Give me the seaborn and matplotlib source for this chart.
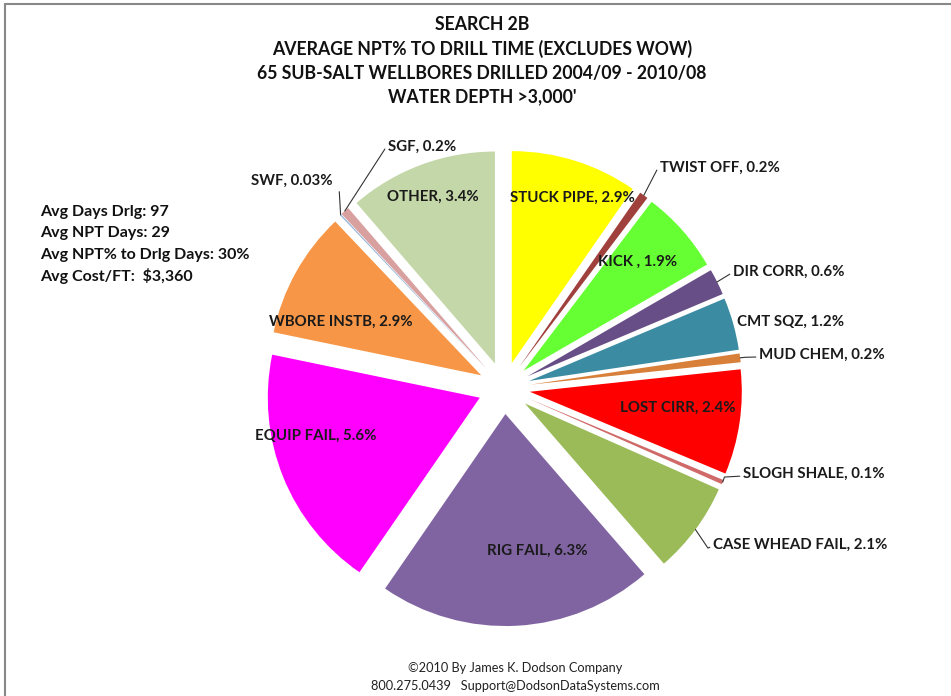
import matplotlib
matplotlib.use("Agg")
import numpy as np
import matplotlib.pyplot as plt
import seaborn as sns

# --- data ---
categories = ["STUCK PIPE", "TWIST OFF", "KICK ", "DIR CORR", "CMT SQZ",
              "MUD CHEM", "LOST CIRR", "SLOGH SHALE", "CASE WHEAD FAIL",
              "RIG FAIL", "EQUIP FAIL", "WBORE INSTB", "SWF", "SGF", "OTHER"]
npt_pct = [2.9, 0.2, 1.9, 0.6, 1.2, 0.2, 2.4, 0.1, 2.1, 6.3, 5.6, 2.9, 0.03, 0.2, 3.4]

colors = ["#FFFF00", "#A0403D", "#66FF33", "#684E86", "#3B8CA2",
          "#D8803A", "#FF0000", "#D06A68", "#9BBB59", "#8064A2",
          "#FF00FF", "#F79646", "#95B3D7", "#D9A0A0", "#C4D7A8"]

title_lines = ["SEARCH 2B",
               "AVERAGE NPT% TO DRILL TIME (EXCLUDES WOW)",
               "65 SUB-SALT WELLBORES DRILLED 2004/09 - 2010/08",
               "WATER DEPTH >3,000'"]
stats_lines = ["Avg Days Drlg: 97", "Avg NPT Days: 29",
               "Avg NPT% to Drlg Days: 30%", "Avg Cost/FT:  $3,360"]
footer_lines = ["\u00a92010 By James K. Dodson Company",
                "800.275.0439   Support@DodsonDataSystems.com"]

# label layout (pie radius units)
inside_pos = {"STUCK PIPE": (0.325, 0.895), "KICK ": (0.63, 0.595),
              "LOST CIRR": (0.82, -0.094), "RIG FAIL": (0.156, -0.77),
              "EQUIP FAIL": (-0.887, -0.226), "WBORE INSTB": (-0.77, 0.31),
              "OTHER": (-0.335, 0.90)}
# (text x, text y, alignment, elbow)
outside_pos = {"TWIST OFF": (0.736, 1.038, "left", None),
               "DIR CORR": (1.08, 0.547, "left", None),
               "CMT SQZ": (1.10, 0.311, "left", "none"),
               "MUD CHEM": (1.203, 0.156, "left", (1.14, 0.145)),
               "SLOGH SHALE": (1.127, -0.406, "left", (1.04, -0.42)),
               "CASE WHEAD FAIL": (0.986, -0.741, "left", (0.962, -0.755)),
               "SWF": (-0.807, 0.976, "right", None),
               "SGF": (-0.547, 1.137, "left", None)}

sns.set_theme(style="white")
plt.rcParams['font.family'] = ['Lato', 'DejaVu Sans']

fig = plt.figure(figsize=(9.51, 6.96), dpi=100)
fig.patch.set_facecolor("white")

R_PX = 212
cx, cy = 504, 388
half = 1.6 * R_PX
ax = fig.add_axes([(cx - half) / 951, (696 - cy - half) / 696, 2 * half / 951, 2 * half / 696])

explode = [0.123] * len(npt_pct)
wedges, _ = ax.pie(npt_pct, colors=colors, startangle=90, counterclock=False,
                   explode=explode, radius=1.0, wedgeprops=dict(linewidth=0))
ax.set_xlim(-1.6, 1.6)
ax.set_ylim(-1.6, 1.6)
ax.axis("off")

for w, name, val, ex in zip(wedges, categories, npt_pct, explode):
    text = f"{name}, {val}%"
    if name in inside_pos:
        x, y = inside_pos[name]
        ax.text(x, y, text, ha="center", va="center", fontsize=10.8,
                fontweight="bold", color="#1a1a1a", zorder=5)
    else:
        tx, ty, ha, elbow = outside_pos[name]
        ang = np.deg2rad((w.theta1 + w.theta2) / 2)
        r0 = 1.0 + ex
        sx, sy = r0 * np.cos(ang), r0 * np.sin(ang)
        ax.text(tx, ty, text, ha=ha, va="center", fontsize=10.8,
                fontweight="bold", color="#1a1a1a", zorder=5)
        if elbow == "none":
            continue
        if ha == "left":
            end = (tx - 0.015, ty - 0.01)
        else:
            end = (tx + 0.03, ty - 0.05)
        if elbow is None:
            xs, ys = [sx, end[0]], [sy, end[1]]
        else:
            xs, ys = [sx, elbow[0], end[0]], [sy, elbow[1], end[1]]
        ax.plot(xs, ys, color="#333333", lw=0.8, zorder=4)

# title
for i, line in enumerate(title_lines):
    fig.text(482 / 951, 1 - (25 + 24 * i) / 696, line, ha="center", va="center",
             fontsize=12.7, fontweight="bold", color="#111111")

# stats block
for i, line in enumerate(stats_lines):
    fig.text(40 / 951, 1 - (212 + 21.3 * i) / 696, line, ha="left", va="center",
             fontsize=11.5, fontweight="bold", color="#111111")

# footer
for i, line in enumerate(footer_lines):
    fig.text(515 / 951, 1 - (668 + 18 * i) / 696, line, ha="center", va="center",
             fontsize=9.2, color="#222222")

# frame on left and top
fig.add_artist(plt.Line2D([5 / 951, 5 / 951], [0, 1 - 4 / 696], color="#888888", lw=1.5))
fig.add_artist(plt.Line2D([5 / 951, 1], [1 - 4 / 696, 1 - 4 / 696], color="#888888", lw=1.5))

fig.savefig("out.png", dpi=100, facecolor="white")
